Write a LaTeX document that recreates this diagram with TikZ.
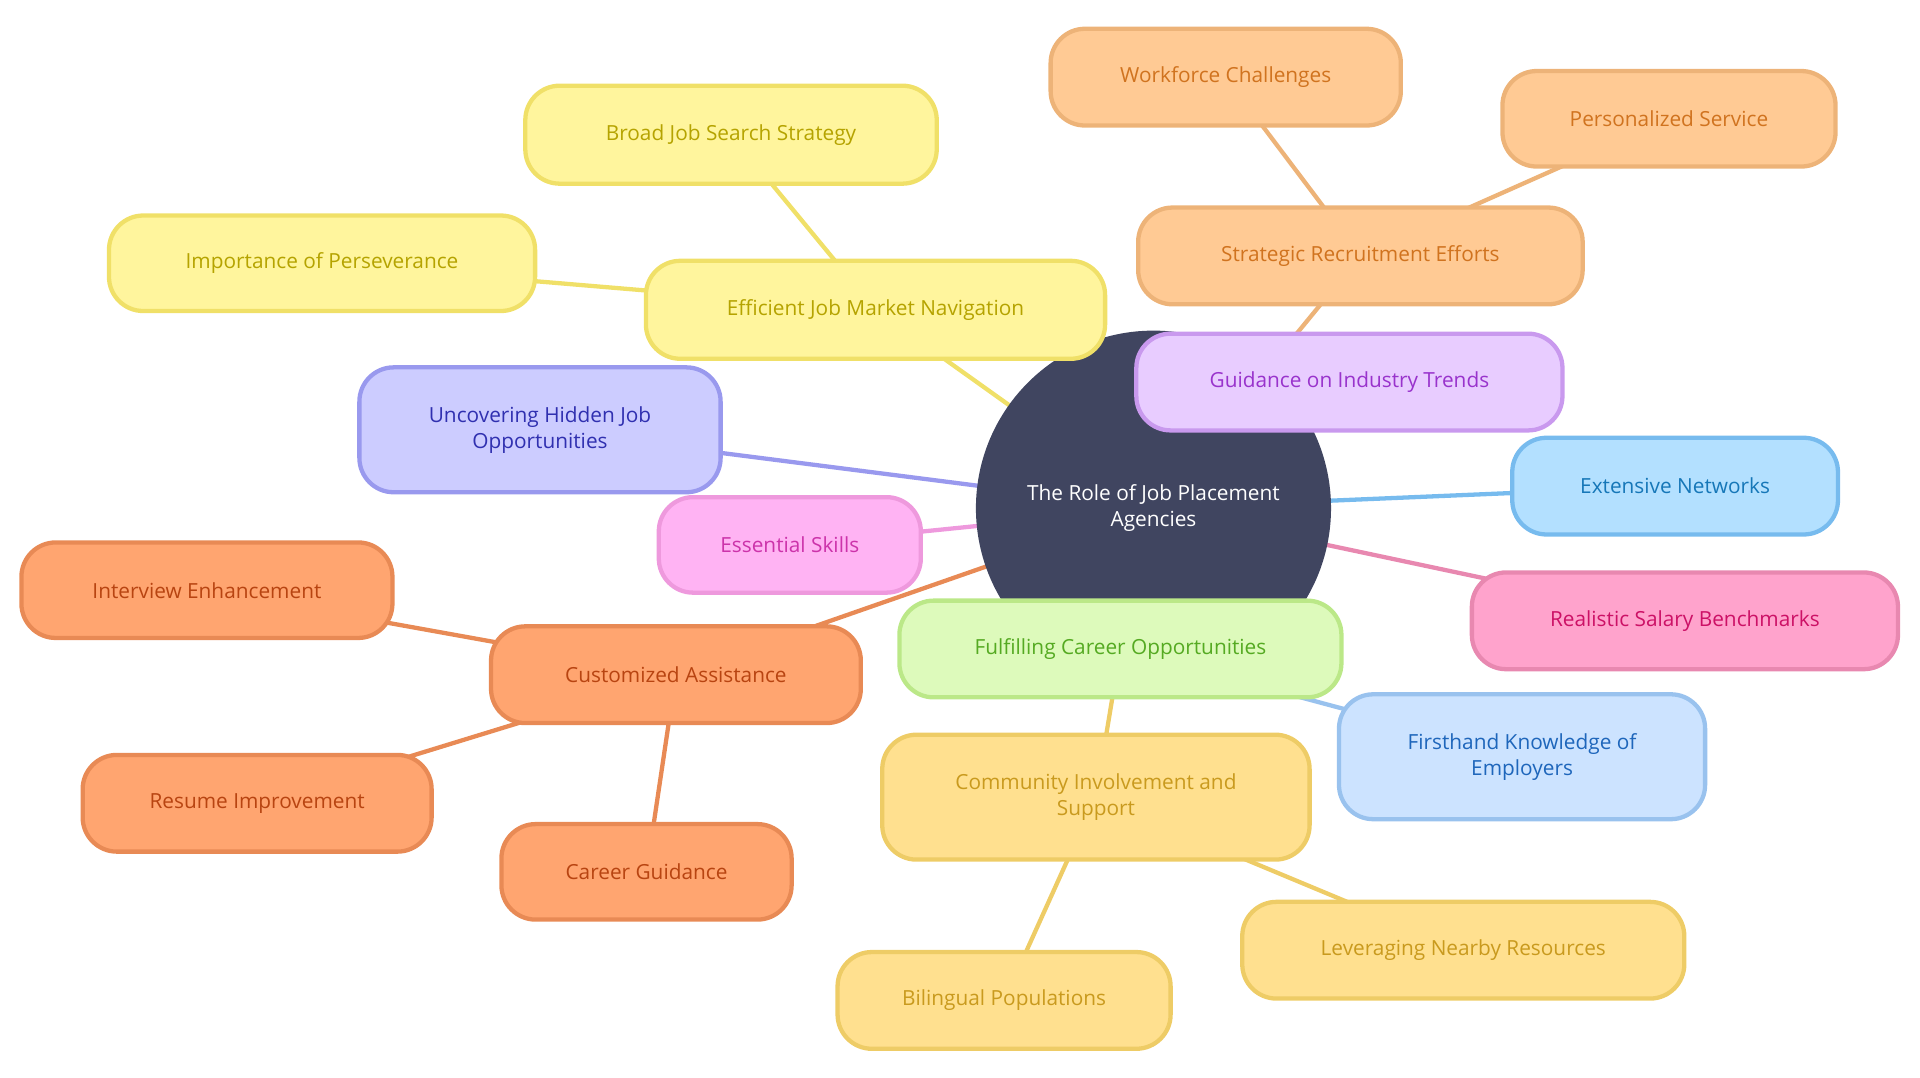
\documentclass[tikz,border=0pt]{standalone}
\usepackage{fontspec}
\setmainfont{Open Sans}
\usetikzlibrary{backgrounds}
\definecolor{yF}{HTML}{FFF59D}\definecolor{yB}{HTML}{F0E068}\definecolor{yT}{HTML}{B5A300}
\definecolor{oF}{HTML}{FFCA94}\definecolor{oB}{HTML}{EDB378}\definecolor{oT}{HTML}{D0731F}
\definecolor{pF}{HTML}{E8CCFF}\definecolor{pB}{HTML}{C999EE}\definecolor{pT}{HTML}{9933CC}
\definecolor{vF}{HTML}{CCCCFF}\definecolor{vB}{HTML}{9999EE}\definecolor{vT}{HTML}{3030B0}
\definecolor{kF}{HTML}{FFB3F3}\definecolor{kB}{HTML}{EE99DD}\definecolor{kT}{HTML}{CC33AA}
\definecolor{bF}{HTML}{B3E0FF}\definecolor{bB}{HTML}{77BBEE}\definecolor{bT}{HTML}{1677B8}
\definecolor{rF}{HTML}{FFA3CC}\definecolor{rB}{HTML}{E888B0}\definecolor{rT}{HTML}{CC1166}
\definecolor{gF}{HTML}{DDFABB}\definecolor{gB}{HTML}{BBE888}\definecolor{gT}{HTML}{55AA22}
\definecolor{lF}{HTML}{CCE3FF}\definecolor{lB}{HTML}{99C2EE}\definecolor{lT}{HTML}{1E66BB}
\definecolor{cF}{HTML}{FFE08F}\definecolor{cB}{HTML}{EECC66}\definecolor{cT}{HTML}{C99A1E}
\definecolor{aF}{HTML}{FFA570}\definecolor{aB}{HTML}{E88A55}\definecolor{aT}{HTML}{B84411}
\definecolor{hub}{HTML}{404560}
\tikzset{
 box/.style args={#1/#2/#3/#4/#5}{draw=#2, fill=#1, text=#3, line width=3.5pt, rounded corners=28pt,
   minimum width=#4pt, minimum height=#5pt, align=center, font=\fontsize{17}{21}\selectfont, inner sep=0pt},
 ed/.style={line width=3.5pt, draw=#1}
}
\begin{document}
\begin{tikzpicture}[x=1pt,y=-1pt]
\useasboundingbox (0,0) rectangle (1568,880);
\node[circle, fill=hub, text=white, minimum size=290pt, align=center, font=\fontsize{17}{21}\selectfont] (hub) at (942,415) {The Role of Job Placement\\Agencies};
\node[box=yF/yB/yT/375/80] (ejm) at (715,253) {Efficient Job Market Navigation};
\node[box=yF/yB/yT/336/80] (bjs) at (597,110) {Broad Job Search Strategy};
\node[box=yF/yB/yT/348/78] (iop) at (263,215) {Importance of Perseverance};
\node[box=oF/oB/oT/363/79] (sre) at (1111,209) {Strategic Recruitment Efforts};
\node[box=oF/oB/oT/286/79] (wfc) at (1001,63) {Workforce Challenges};
\node[box=oF/oB/oT/272/78] (ps) at (1363,97) {Personalized Service};
\node[box=pF/pB/pT/348/79] (git) at (1102,312) {Guidance on Industry Trends};
\node[box=vF/vB/vT/295/102] (uhj) at (441,351) {Uncovering Hidden Job\\Opportunities};
\node[box=kF/kB/kT/214/78] (es) at (645,445) {Essential Skills};
\node[box=bF/bB/bT/266/79] (en) at (1368,397) {Extensive Networks};
\node[box=rF/rB/rT/348/79] (rsb) at (1376,507) {Realistic Salary Benchmarks};
\node[box=gF/gB/gT/361/79] (fco) at (915,530) {Fulfilling Career Opportunities};
\node[box=lF/lB/lT/299/102] (fke) at (1243,618) {Firsthand Knowledge of\\Employers};
\node[box=cF/cB/cT/349/102] (cis) at (895,651) {Community Involvement and\\Support};
\node[box=cF/cB/cT/361/79] (lnr) at (1195,776) {Leveraging Nearby Resources};
\node[box=cF/cB/cT/272/79] (bp) at (820,817) {Bilingual Populations};
\node[box=aF/aB/aT/302/79] (ca) at (552,551) {Customized Assistance};
\node[box=aF/aB/aT/303/78] (ie) at (169,482) {Interview Enhancement};
\node[box=aF/aB/aT/285/79] (ri) at (210,656) {Resume Improvement};
\node[box=aF/aB/aT/237/78] (cg) at (528,712) {Career Guidance};
\begin{scope}[on background layer]
\draw[ed=yB] (hub.center) -- (ejm.center);
\draw[ed=yB] (ejm.center) -- (bjs.center);
\draw[ed=yB] (ejm.center) -- (iop.center);
\draw[ed=oB] (hub.center) -- (sre.center);
\draw[ed=oB] (sre.center) -- (wfc.center);
\draw[ed=oB] (sre.center) -- (ps.center);
\draw[ed=pB] (hub.center) -- (git.center);
\draw[ed=vB] (hub.center) -- (uhj.center);
\draw[ed=kB] (hub.center) -- (es.center);
\draw[ed=bB] (hub.center) -- (en.center);
\draw[ed=rB] (hub.center) -- (rsb.center);
\draw[ed=gB] (hub.center) -- (fco.center);
\draw[ed=lB] (fco.center) -- (fke.center);
\draw[ed=cB] (fco.center) -- (cis.center);
\draw[ed=cB] (cis.center) -- (lnr.center);
\draw[ed=cB] (cis.center) -- (bp.center);
\draw[ed=aB] (hub.center) -- (ca.center);
\draw[ed=aB] (ca.center) -- (ie.center);
\draw[ed=aB] (ca.center) -- (ri.center);
\draw[ed=aB] (ca.center) -- (cg.center);
\end{scope}
\end{tikzpicture}
\end{document}
